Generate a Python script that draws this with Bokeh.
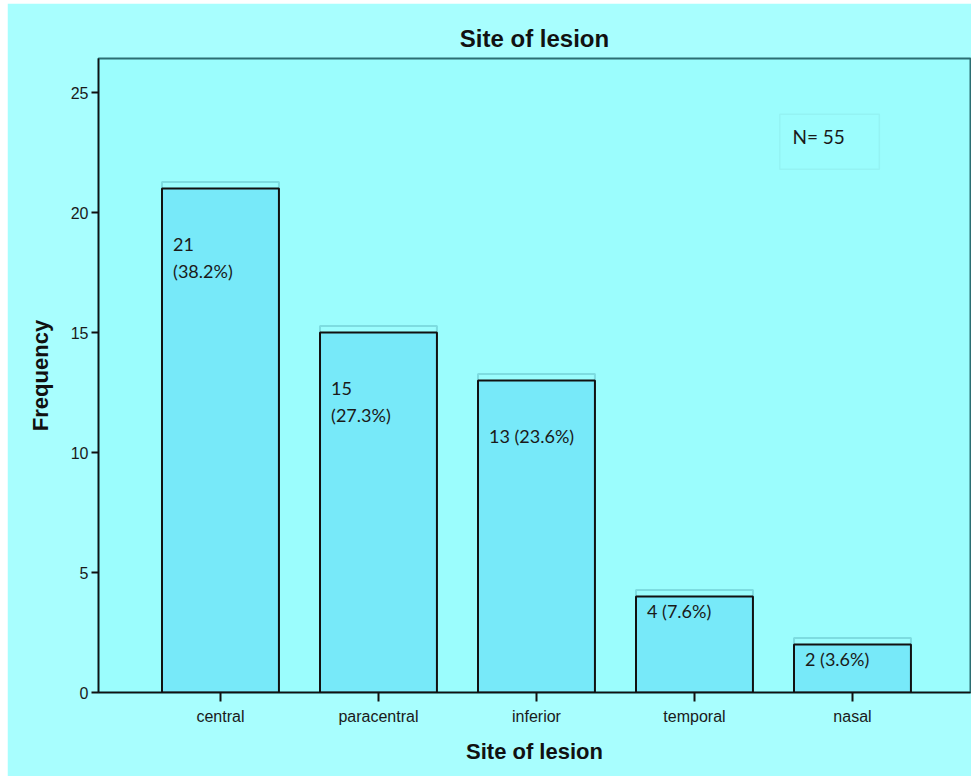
from bokeh.plotting import figure
from bokeh.models import ColumnDataSource, FixedTicker, BoxAnnotation, Label, Range1d
from bokeh.core.properties import value
from bokeh.embed import file_html
from bokeh.resources import INLINE

# Data
categories = ["central", "paracentral", "inferior", "temporal", "nasal"]
counts = [21, 15, 13, 4, 2]
bar_labels = ["21\n(38.2%)", "15\n(27.3%)", "13 (23.6%)", "4 (7.6%)", "2 (3.6%)"]
y_ticks = [0, 5, 10, 15, 20, 25]
total_label = "N= 55"

OUTER_BG = "#a8fefe"
INNER_BG = "#9bfdfd"
BAR_FILL = "#77e9f9"
BAR_WIDTH = 0.74

xs = list(range(len(categories)))
source = ColumnDataSource(dict(
    x=xs,
    count=counts,
    left=[x - BAR_WIDTH / 2 for x in xs],
    right=[x + BAR_WIDTH / 2 for x in xs],
    ghost_top=[c + 0.27 for c in counts],
    label=bar_labels,
    label_x=[x - BAR_WIDTH / 2 + 0.07 for x in xs],
    label_off=[44 if c >= 10 else 3 for c in counts],
))

p = figure(
    width=964, height=773,
    x_range=Range1d(-0.772, 4.747),
    y_range=Range1d(0, 26.42),
    output_backend="svg", toolbar_location=None,
    min_border_left=91, min_border_right=1, min_border_top=55, min_border_bottom=84,
    background_fill_color=INNER_BG, border_fill_color=OUTER_BG,
    title="Site of lesion",
)
p.margin = (3, 0, 1, 7)

p.title.align = "center"
p.title.offset = -39
p.title.standoff = 13
p.title.text_font = "Liberation Sans"
p.title.text_font_size = "24px"
p.title.text_font_style = "bold"
p.title.text_color = "#111111"

p.outline_line_color = "#2b6e73"
p.outline_line_width = 2

p.xgrid.visible = False
p.ygrid.visible = False

# faint shadow frame behind each bar
p.quad(left="left", right="right", bottom=0.29, top="ghost_top", source=source,
       fill_color=None, line_color="#4fa9b3", line_alpha=0.4, line_width=2)

# bars
p.quad(left="left", right="right", bottom=0, top="count", source=source,
       fill_color=BAR_FILL, fill_alpha=1.0, line_color="#111111", line_width=2)

# value labels inside bars
p.text(x="label_x", y="count", text="label", source=source,
       text_font=value("Lato"), text_font_size="18px", text_color="#1a1a1a",
       text_align="left", text_baseline="top", y_offset="label_off",
       text_line_height=1.25)

# total count box
p.add_layout(BoxAnnotation(left=3.54, right=4.17, bottom=21.8, top=24.1,
                           fill_color=None, line_color="#86dede", line_width=1.5))
p.add_layout(Label(x=3.62, y=23.15, text=total_label, text_font="Lato",
                   text_font_size="19px", text_baseline="middle", text_color="#1a1a1a"))

# axes
p.xaxis.ticker = FixedTicker(ticks=xs)
p.xaxis.major_label_overrides = {i: c for i, c in enumerate(categories)}
p.xaxis.axis_label = "Site of lesion"
p.yaxis.ticker = FixedTicker(ticks=y_ticks)
p.yaxis.axis_label = "Frequency"

for ax in (p.xaxis[0], p.yaxis[0]):
    ax.axis_line_color = "#111111"
    ax.axis_line_width = 1.5
    ax.major_tick_line_color = "#111111"
    ax.major_tick_line_width = 2
    ax.major_tick_in = 0
    ax.minor_tick_line_color = None
    ax.major_label_text_font = "Liberation Sans"
    ax.major_label_text_font_size = "16px"
    ax.major_label_text_color = "#1a1a1a"
    ax.axis_label_text_font = "Liberation Sans"
    ax.axis_label_text_font_size = "22px"
    ax.axis_label_text_font_style = "bold"
    ax.axis_label_text_color = "#111111"

p.xaxis.major_tick_out = 9
p.xaxis.major_label_standoff = 6
p.xaxis.axis_label_standoff = 11
p.yaxis.major_tick_out = 7
p.yaxis.major_label_standoff = 3
p.yaxis.axis_label_standoff = 15

open("out.html", "w").write(file_html(p, INLINE))
